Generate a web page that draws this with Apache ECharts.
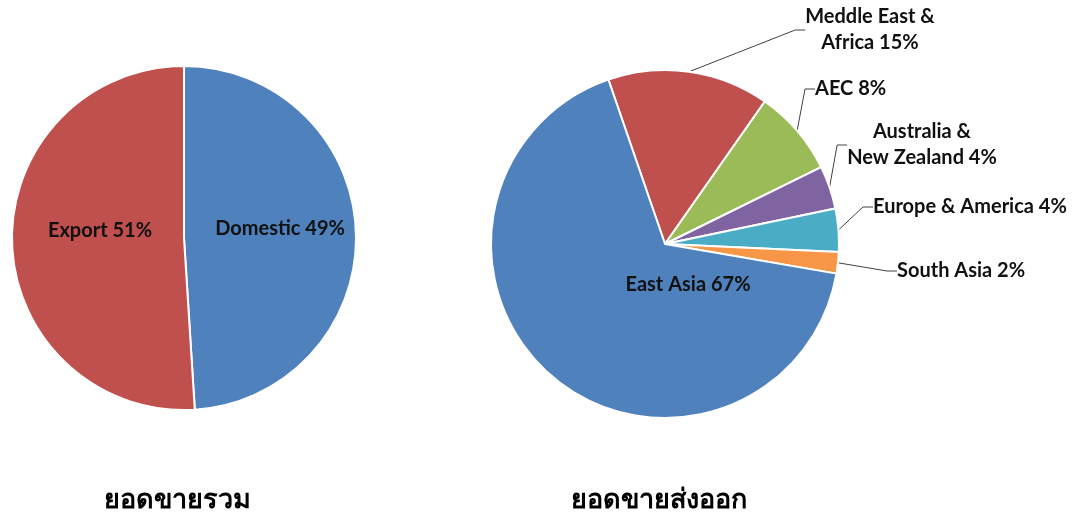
<!DOCTYPE html>
<html>
<head>
<meta charset="utf-8">
<script src="https://cdn.jsdelivr.net/npm/echarts@6/dist/echarts.min.js"></script>
<style>
  html, body { margin: 0; padding: 0; background: #fff; }
  #chart { width: 1077px; height: 515px; }
</style>
</head>
<body>
<div id="chart"></div>
<script>
// total sales split
const totalNames = ['Domestic', 'Export']
const totalValues = [49, 51]
// export sales split by region
const exportNames = ['Meddle East &\nAfrica', 'AEC', 'Australia &\nNew Zealand', 'Europe & America', 'South Asia', 'East Asia']
const exportValues = [15, 8, 4, 4, 2, 67]
const titles = ['ยอดขายรวม', 'ยอดขายส่งออก']

const totalColors = ['#4F81BD', '#C0504D']
const exportColors = ['#C0504D', '#9BBB59', '#8064A2', '#4BACC6', '#F79646', '#4F81BD']

// where each label sits (px) and how it is aligned
const totalLabelPos = [[280, 229, 'center'], [100, 231, 'center']]
const exportLabelPos = [
  [870, 30, 'center'],
  [815, 89, 'left'],
  [922, 145, 'center'],
  [873, 207, 'left'],
  [897, 271, 'left'],
  [688, 285, 'center']
]

const labelFont = { fontFamily: 'Lato', fontWeight: 'bold', fontSize: 20, color: '#111' }
const titleFont = { fontSize: 27, fontWeight: 'bold', color: '#000', fontFamily: 'Noto Sans, DejaVu Sans, sans-serif' }

const place = (arr) => (params) => {
  const p = arr[params.dataIndex]
  return { x: p[0], y: p[1], align: p[2], verticalAlign: 'middle' }
}

const chart = echarts.init(document.getElementById('chart'))
chart.setOption({
  animation: false,
  title: [
    { text: titles[0], left: 172, top: 482, textAlign: 'center', textStyle: titleFont },
    { text: titles[1], left: 654, top: 482, textAlign: 'center', textStyle: titleFont }
  ],
  series: [
    {
      type: 'pie',
      center: [184, 238],
      radius: 172,
      startAngle: 90,
      clockwise: true,
      itemStyle: { borderColor: '#fff', borderWidth: 2 },
      label: Object.assign({ position: 'inner', formatter: '{b} {d}%' }, labelFont),
      labelLine: { show: false },
      labelLayout: place(totalLabelPos),
      emphasis: { disabled: true },
      data: totalNames.map((n, i) => ({ name: n, value: totalValues[i], itemStyle: { color: totalColors[i] } }))
    },
    {
      type: 'pie',
      center: [665, 244],
      radius: 174,
      startAngle: 109,
      clockwise: true,
      itemStyle: { borderColor: '#fff', borderWidth: 2 },
      label: Object.assign({ position: 'outside', formatter: '{b} {d}%', lineHeight: 26, align: 'center' }, labelFont),
      labelLine: { show: true, length: 15, length2: 10, lineStyle: { color: '#404040', width: 1 } },
      labelLayout: place(exportLabelPos),
      emphasis: { disabled: true },
      data: exportNames.map((n, i) => {
        const item = { name: n, value: exportValues[i], itemStyle: { color: exportColors[i] } }
        if (n === 'East Asia') {
          item.label = { position: 'inner' }
          item.labelLine = { show: false }
        }
        return item
      })
    }
  ]
})
</script>
</body>
</html>
